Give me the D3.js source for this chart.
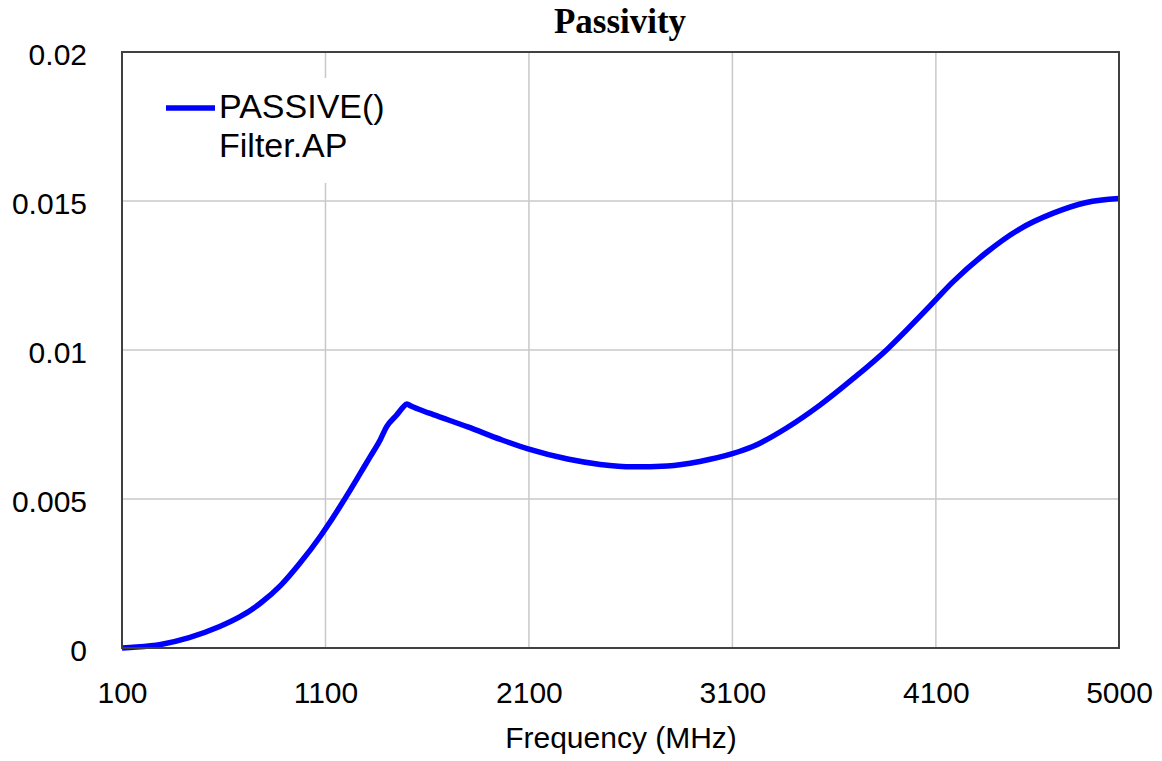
<!DOCTYPE html>
<html>
<head>
<meta charset="utf-8">
<script src="https://cdn.jsdelivr.net/npm/d3@7"></script>
<style>
html,body{margin:0;padding:0;background:#fff;}
svg{display:block;}
</style>
</head>
<body>
<svg id="chart" width="1162" height="761"></svg>
<script>
const titleText = "Passivity";
const xLabel = "Frequency (MHz)";
const legendLines = ["PASSIVE()", "Filter.AP"];
const xTicks = [100, 1100, 2100, 3100, 4100, 5000];
const yTicks = [0, 0.005, 0.01, 0.015, 0.02];
const yTickLabels = ["0", "0.005", "0.01", "0.015", "0.02"];

const freq = [100,140,290,430,580,680,780,880,975,1075,1120,1170,1220,1270,1320,1370,1400,1450,1480,1500,1520,1555,1630,1800,1960,2100,2290,2450,2610,2780,2940,3100,3200,3370,3530,3690,3860,4020,4100,4180,4350,4510,4680,4840,5000];
const passive = [0,0.00002,0.00012,0.00035,0.00072,0.00105,0.0015,0.0021,0.00285,0.00375,0.0042,0.00473,0.00528,0.00585,0.00642,0.007,0.00742,0.00782,0.00807,0.00819,0.00812,0.00802,0.00783,0.00742,0.007,0.00667,0.00634,0.00616,0.00608,0.00611,0.00626,0.00652,0.00676,0.0074,0.00815,0.00902,0.01002,0.01112,0.01169,0.01226,0.01328,0.01405,0.0146,0.01495,0.01508];

const svg = d3.select("#chart");
const L = 122, R = 1119, T = 52, B = 648;

const x = d3.scaleLinear().domain([100, 5000]).range([L, R]);
const y = d3.scaleLinear().domain([0, 0.02]).range([B, T]);

// gridlines
svg.append("g").selectAll("line.gx").data(xTicks.slice(1, -1)).join("line")
  .attr("x1", d => x(d)).attr("x2", d => x(d)).attr("y1", T).attr("y2", B)
  .attr("stroke", "#c8c8c8").attr("stroke-width", 1.5);
svg.append("g").selectAll("line.gy").data(yTicks.slice(1, -1)).join("line")
  .attr("x1", L).attr("x2", R).attr("y1", d => y(d)).attr("y2", d => y(d))
  .attr("stroke", "#c8c8c8").attr("stroke-width", 1.5);

// legend background
svg.append("rect").attr("x", 150).attr("y", 78).attr("width", 255).attr("height", 105).attr("fill", "#fff");

// series
const data = freq.map((f, i) => [f, passive[i]]);
const line = d3.line().x(d => x(d[0])).y(d => y(d[1])).curve(d3.curveMonotoneX);
svg.append("path").datum(data).attr("d", line)
  .attr("fill", "none").attr("stroke", "#0000ff").attr("stroke-width", 5.5)
  .attr("stroke-linejoin", "round").attr("stroke-linecap", "butt");

// frame
svg.append("rect").attr("x", L).attr("y", T).attr("width", R - L).attr("height", B - T)
  .attr("fill", "none").attr("stroke", "#404040").attr("stroke-width", 2);

// axes labels
const font = "'Liberation Sans', Arial, sans-serif";
const xAxis = d3.axisBottom(x).tickValues(xTicks).tickSize(0).tickFormat(d3.format("d"));
const gx = svg.append("g").attr("transform", `translate(0,${B})`).call(xAxis);
gx.select(".domain").remove();
gx.selectAll("text").attr("font-family", font).attr("font-size", 30).attr("fill", "#000")
  .attr("dy", null).attr("y", 55);

const yAxis = d3.axisLeft(y).tickValues(yTicks).tickSize(0).tickFormat((d, i) => yTickLabels[i]);
const gy = svg.append("g").attr("transform", `translate(${L},0)`).call(yAxis);
gy.select(".domain").remove();
gy.selectAll("text").attr("font-family", font).attr("font-size", 30).attr("fill", "#000")
  .attr("x", -35).attr("dy", "0.42em");

// title
svg.append("text").attr("x", 620).attr("y", 33).attr("text-anchor", "middle")
  .attr("font-family", "'Liberation Serif', 'Times New Roman', serif").attr("font-weight", "bold")
  .attr("font-size", 35).text(titleText);

// x label
svg.append("text").attr("x", 621).attr("y", 748).attr("text-anchor", "middle")
  .attr("font-family", font).attr("font-size", 30).text(xLabel);

// legend
svg.append("line").attr("x1", 166).attr("x2", 215).attr("y1", 108).attr("y2", 108)
  .attr("stroke", "#0000ff").attr("stroke-width", 5.5);
svg.append("g").selectAll("text").data(legendLines).join("text")
  .attr("x", 219).attr("y", (d, i) => 118 + i * 39)
  .attr("font-family", font).attr("font-size", 34).text(d => d);
</script>
</body>
</html>
